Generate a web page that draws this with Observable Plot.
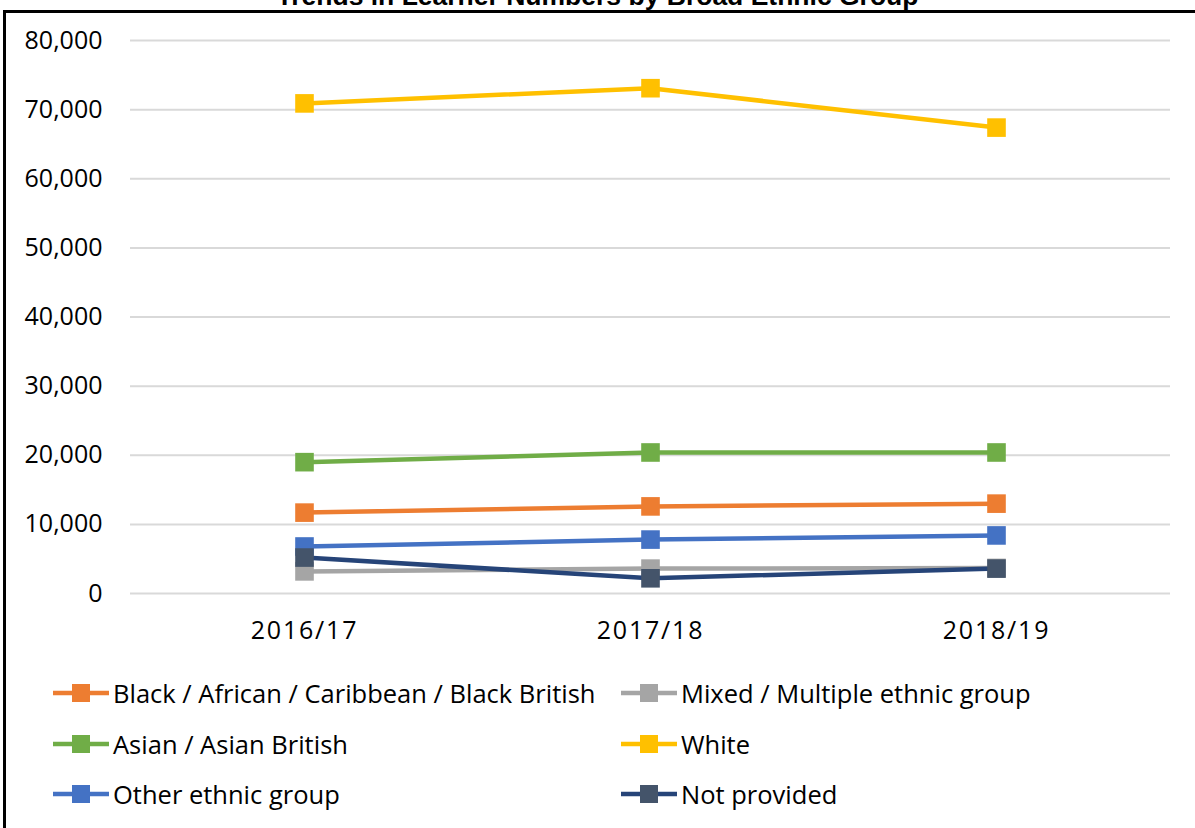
<!DOCTYPE html>
<html><head><meta charset="utf-8">
<script src="https://cdn.jsdelivr.net/npm/d3@7"></script>
<script src="https://cdn.jsdelivr.net/npm/@observablehq/plot@0.6"></script>
<style>
html,body{margin:0;padding:0;background:#fff;overflow:hidden;width:1195px;height:828px;}
#title{position:absolute;left:0;top:-19px;width:1195px;text-align:center;font:bold 26.5px "Liberation Sans",Arial,sans-serif;color:#000;white-space:nowrap;}
#frame{position:absolute;left:3px;top:10px;width:1260px;height:900px;border:3px solid #000;box-sizing:border-box;}
#chart{position:absolute;left:0;top:0;}
#legend{position:absolute;left:0;top:0;width:1195px;height:828px;font:25.5px "Open Sans",sans-serif;color:#000;}
.item{position:absolute;display:flex;align-items:center;height:30px;white-space:nowrap;}
.item svg{margin-right:3px;}
.xax text{letter-spacing:1.8px;}
</style>
</head><body>
<div id="title">Trends in Learner Numbers by Broad Ethnic Group</div>
<div id="frame"></div>
<div id="chart"></div>
<div id="legend"></div>
<script>
const years = ["2016/17", "2017/18", "2018/19"];
const seriesNames = ["Black / African / Caribbean / Black British", "Mixed / Multiple ethnic group", "Asian / Asian British", "White", "Other ethnic group", "Not provided"];
const lineColors = ["#ED7D31", "#A5A5A5", "#70AD47", "#FFC000", "#4472C4", "#264478"];
const markerColors = ["#ED7D31", "#A5A5A5", "#70AD47", "#FFC000", "#4472C4", "#44546A"];
const blackValues = [11700, 12600, 13000];
const mixedValues = [3200, 3600, 3700];
const asianValues = [19000, 20400, 20400];
const whiteValues = [70900, 73100, 67400];
const otherValues = [6800, 7800, 8400];
const notProvidedValues = [5200, 2200, 3600];
const yTicks = [0, 10000, 20000, 30000, 40000, 50000, 60000, 70000, 80000];

const allValues = [blackValues, mixedValues, asianValues, whiteValues, otherValues, notProvidedValues];
const data = [];
seriesNames.forEach((s, i) => years.forEach((y, j) => data.push({series: s, year: y, value: allValues[i][j]})));

const squareSymbol = {draw(ctx, size) { const s = Math.sqrt(size); ctx.rect(-s/2, -s/2, s, s); }};

const marks = [
  Plot.ruleY(yTicks, {stroke: "#d9d9d9", strokeWidth: 2}),
  Plot.axisX({tickSize: 0, tickPadding: 28, label: null, className: "xax"}),
  Plot.axisY({ticks: yTicks, tickFormat: d3.format(","), tickSize: 0, tickPadding: 28, label: null})
];
seriesNames.forEach((s, i) => {
  const d = data.filter(r => r.series === s);
  marks.push(Plot.line(d, {x: "year", y: "value", stroke: lineColors[i], strokeWidth: 4.5}));
  marks.push(Plot.dot(d, {x: "year", y: "value", symbol: squareSymbol, r: 10.5, fill: markerColors[i], stroke: "none"}));
});

const chart = Plot.plot({
  width: 1195,
  height: 660,
  marginLeft: 130,
  marginRight: 25,
  marginTop: 40,
  marginBottom: 67,
  style: {fontFamily: "'Open Sans', sans-serif", fontSize: "25px", color: "#000", background: "transparent", overflow: "visible"},
  x: {type: "point", domain: years, padding: 0.5},
  y: {domain: [0, 80000]},
  symbol: {type: "identity"},
  marks
});
document.getElementById("chart").appendChild(chart);

const legend = document.getElementById("legend");
const positions = [[52, 693], [620, 693], [52, 744], [620, 744], [52, 794], [620, 794]];
seriesNames.forEach((s, i) => {
  const el = document.createElement("div");
  el.className = "item";
  el.style.left = positions[i][0] + "px";
  el.style.top = (positions[i][1] - 15) + "px";
  el.innerHTML = `<svg width="58" height="24"><line x1="1" x2="57" y1="12" y2="12" stroke="${lineColors[i]}" stroke-width="4.5"/><rect x="20" y="3" width="18" height="18" fill="${markerColors[i]}"/></svg><span>${s}</span>`;
  legend.appendChild(el);
});
</script>
</body></html>
